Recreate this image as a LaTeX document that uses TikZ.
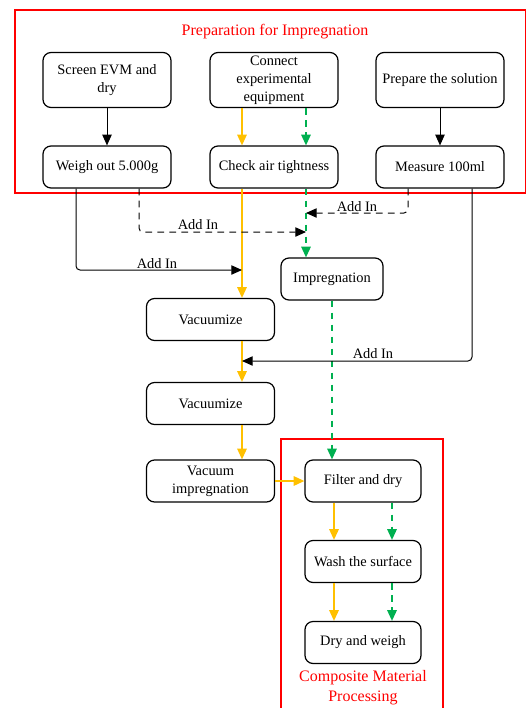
\documentclass[tikz,border=0pt]{standalone}
\usepackage{fontspec}
\setmainfont{Liberation Serif}
\usetikzlibrary{arrows.meta, positioning, calc}
\definecolor{flowyellow}{RGB}{255,192,0}
\definecolor{flowgreen}{RGB}{0,176,80}
\definecolor{framered}{RGB}{255,0,0}
\tikzset{
    stepbox/.style={
        rectangle,
        draw=black,
        line width=0.9pt,
        rounded corners=6pt,
        minimum width=96pt,
        minimum height=31.5pt,
        inner sep=1pt,
        align=center,
        font=\fontsize{10.8}{13.5}\selectfont
    },
    tallbox/.style={
        stepbox,
        minimum height=41.25pt
    },
    arrow/.style={
        -{Triangle[length=8pt,width=7pt]},
        line width=0.75pt
    },
    yarrow/.style={
        arrow,
        draw=flowyellow,
        line width=1.3pt
    },
    garrow/.style={
        arrow,
        draw=flowgreen,
        line width=1.3pt,
        dash pattern=on 5pt off 4pt
    },
    addarrow/.style={
        arrow,
        rounded corners=3pt
    },
    dasharrow/.style={
        addarrow,
        dash pattern=on 5pt off 4pt
    },
    addlabel/.style={
        font=\fontsize{10.8}{13}\selectfont,
        inner sep=0pt
    },
    frame/.style={
        draw=framered,
        line width=1pt
    },
    frametitle/.style={
        text=framered,
        align=center,
        font=\fontsize{12}{15}\selectfont
    }
}

\begin{document}
\begin{tikzpicture}[x=0.75pt, y=-0.75pt]

    \useasboundingbox (0,0) rectangle (527,708);

    % Preparation frame
    \draw[frame] (15,10) rectangle (525.5,193);
    \node[frametitle] (preptitle) at (275,32) {Preparation for Impregnation};

    % Top row
    \node[tallbox] (screen) at (107,80) {Screen EVM and\\dry};
    \node[tallbox] (connect) at (274,80) {Connect\\experimental\\equipment};
    \node[tallbox] (prepare) at (440,80) {Prepare the solution};

    % Second row
    \node[stepbox] (weigh) at (107,167) {Weigh out 5.000g};
    \node[stepbox] (check) at (274,167) {Check air tightness};
    \node[stepbox] (measure) at (440,167) {Measure 100ml};

    % Middle part
    \node[stepbox, minimum width=76.5pt] (impreg) at (332,279) {Impregnation};
    \node[stepbox] (vac1) at (210.5,319.5) {Vacuumize};
    \node[stepbox] (vac2) at (210.5,403.5) {Vacuumize};
    \node[stepbox] (vacimp) at (210.5,481) {Vacuum\\impregnation};

    % Composite frame
    \draw[frame] (281,709) |- (443,439) -- (443,709);
    \node[stepbox, minimum width=87pt] (filter) at (363,481) {Filter and dry};
    \node[stepbox, minimum width=87pt] (wash) at (363,561.5) {Wash the surface};
    \node[stepbox, minimum width=87pt] (dryweigh) at (363,642.5) {Dry and weigh};
    \node[frametitle] (comptitle) at (363,688) {Composite Material\\Processing};

    % Lanes
    \coordinate (ylane) at ($(check.south)+(-32,0)$);
    \coordinate (glane) at ($(check.south)+(32,0)$);
    \coordinate (flane) at ($(filter.south)+(-29,0)$);
    \coordinate (fglane) at ($(filter.south)+(29,0)$);

    % Arrows in preparation
    \draw[arrow] (screen) -- (weigh);
    \draw[yarrow] (connect.south -| ylane) -- (check.north -| ylane);
    \draw[garrow] (connect.south -| glane) -- (check.north -| glane);
    \draw[arrow] (prepare) -- (measure);

    % Main lanes
    \draw[yarrow] (ylane) -- (vac1.north -| ylane);
    \draw[garrow] (glane) -- (impreg.north -| glane);
    \draw[yarrow] (vac1.south -| ylane) -- (vac2.north -| ylane);
    \draw[yarrow] (vac2.south -| ylane) -- (vacimp.north -| ylane);
    \draw[yarrow] (vacimp) -- (filter);
    \draw[garrow] (impreg.south) -- (impreg.south |- filter.north);
    \draw[yarrow] (filter.south -| flane) -- (wash.north -| flane);
    \draw[garrow] (filter.south -| fglane) -- (wash.north -| fglane);
    \draw[yarrow] (wash.south -| flane) -- (dryweigh.north -| flane);
    \draw[garrow] (wash.south -| fglane) -- (dryweigh.north -| fglane);

    % Add In connectors
    \coordinate (wl) at ($(weigh.south)+(-31,0)$);
    \coordinate (wr) at ($(weigh.south)+(32,0)$);
    \coordinate (ml) at ($(measure.south)+(-32,0)$);
    \coordinate (mr) at ($(measure.south)+(32,0)$);
    \coordinate (wlbend) at (76,270);
    \coordinate (wrbend) at (139,232);
    \coordinate (mlbend) at (408,213);
    \coordinate (mrbend) at (472,361);

    \draw[addarrow] (wl) -- (wlbend) -- (ylane |- wlbend);
    \draw[dasharrow] (wr) -- (wrbend) -- (glane |- wrbend);
    \draw[dasharrow] (ml) -- (mlbend) -- (glane |- mlbend);
    \draw[addarrow] (mr) -- (mrbend) -- (ylane |- mrbend);

    \node[addlabel] (addin1) at (157,264) {Add In};
    \node[addlabel] (addin2) at (198,224.5) {Add In};
    \node[addlabel] (addin3) at (357,206.5) {Add In};
    \node[addlabel] (addin4) at (373,354) {Add In};

\end{tikzpicture}
\end{document}
